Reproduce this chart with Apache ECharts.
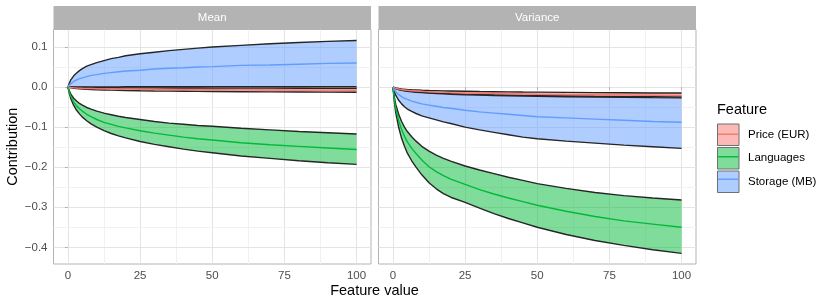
<!DOCTYPE html>
<html><head><meta charset="utf-8">
<script src="https://cdn.jsdelivr.net/npm/echarts@6/dist/echarts.min.js"></script>
<style>html,body{margin:0;padding:0;background:#fff}#c{width:830px;height:306px}</style>
</head><body><div id="c"></div>
<script>
// ---------- data ----------
const xValues = [0, 0.5, 1, 2, 3, 4, 5, 6.5, 8, 10, 12.5, 15, 17.5, 20, 25, 30, 35, 40, 45, 50, 60, 70, 80, 90, 100];
const features = ['Price (EUR)', 'Languages', 'Storage (MB)'];
const panels = ['Mean', 'Variance'];
const xTicks = [0, 25, 50, 75, 100];
const yTicks = [0.1, 0, -0.1, -0.2, -0.3, -0.4];
const xMinorGrid = [12.5, 37.5, 62.5, 87.5];
const yMinorGrid = [0.05, -0.05, -0.15, -0.25, -0.35];

// Mean panel
const meanPriceUpper = [0, -0.0003, -0.0005, -0.0007, -0.0009, -0.0010, -0.0012, -0.0013, -0.0014, -0.0016, -0.0017, -0.0018, -0.0019, -0.0020, -0.0021, -0.0022, -0.0023, -0.0024, -0.0025, -0.0026, -0.0027, -0.0028, -0.0029, -0.0029, -0.0030];
const meanPriceMid   = [0, -0.0007, -0.0012, -0.0019, -0.0024, -0.0028, -0.0031, -0.0035, -0.0038, -0.0042, -0.0045, -0.0048, -0.0051, -0.0053, -0.0056, -0.0060, -0.0062, -0.0064, -0.0066, -0.0068, -0.0071, -0.0074, -0.0076, -0.0078, -0.0080];
const meanPriceLower = [0, -0.0011, -0.0020, -0.0031, -0.0039, -0.0045, -0.0050, -0.0057, -0.0062, -0.0068, -0.0073, -0.0078, -0.0082, -0.0086, -0.0092, -0.0097, -0.0101, -0.0105, -0.0108, -0.0111, -0.0116, -0.0120, -0.0124, -0.0127, -0.0130];
const meanLangUpper  = [0, -0.010, -0.018, -0.028, -0.035, -0.041, -0.045, -0.051, -0.055, -0.060, -0.065, -0.069, -0.073, -0.076, -0.081, -0.086, -0.090, -0.093, -0.096, -0.098, -0.103, -0.107, -0.111, -0.114, -0.117];
const meanLangMid    = [0, -0.014, -0.023, -0.037, -0.047, -0.054, -0.060, -0.068, -0.074, -0.081, -0.088, -0.093, -0.098, -0.102, -0.109, -0.115, -0.120, -0.125, -0.129, -0.132, -0.139, -0.144, -0.148, -0.152, -0.156];
const meanLangLower  = [0, -0.017, -0.029, -0.046, -0.058, -0.067, -0.075, -0.084, -0.092, -0.100, -0.109, -0.116, -0.122, -0.127, -0.136, -0.143, -0.149, -0.155, -0.160, -0.164, -0.172, -0.178, -0.184, -0.189, -0.193];
const meanStorUpper  = [0, 0.010, 0.018, 0.028, 0.035, 0.041, 0.046, 0.052, 0.056, 0.061, 0.066, 0.071, 0.074, 0.078, 0.083, 0.087, 0.091, 0.094, 0.097, 0.100, 0.104, 0.108, 0.111, 0.114, 0.116];
const meanStorMid    = [0, 0.0053, 0.009, 0.014, 0.018, 0.021, 0.023, 0.026, 0.029, 0.031, 0.034, 0.036, 0.038, 0.040, 0.042, 0.045, 0.047, 0.048, 0.050, 0.051, 0.054, 0.055, 0.057, 0.059, 0.060];
const meanStorLower  = [0, 0.0001, 0.0001, 0.0002, 0.0002, 0.0003, 0.0003, 0.0004, 0.0004, 0.0004, 0.0005, 0.0005, 0.0005, 0.0006, 0.0006, 0.0007, 0.0007, 0.0007, 0.0008, 0.0008, 0.0008, 0.0009, 0.0009, 0.0010, 0.0010];

// Variance panel
const varPriceUpper = [0, -0.0013, -0.0023, -0.0036, -0.0045, -0.0052, -0.0058, -0.0066, -0.0071, -0.0078, -0.0085, -0.0090, -0.0095, -0.0099, -0.0106, -0.0112, -0.0116, -0.0121, -0.0125, -0.0128, -0.0134, -0.0139, -0.0143, -0.0147, -0.0150];
const varPriceMid   = [0, -0.0018, -0.0032, -0.0050, -0.0063, -0.0073, -0.0081, -0.0092, -0.0100, -0.0109, -0.0118, -0.0126, -0.0133, -0.0139, -0.0148, -0.0156, -0.0163, -0.0169, -0.0174, -0.0179, -0.0187, -0.0194, -0.0200, -0.0205, -0.0210];
const varPriceLower = [0, -0.0022, -0.0038, -0.0060, -0.0075, -0.0087, -0.0097, -0.0109, -0.0119, -0.0130, -0.0141, -0.0150, -0.0158, -0.0165, -0.0177, -0.0186, -0.0194, -0.0201, -0.0208, -0.0213, -0.0223, -0.0231, -0.0238, -0.0244, -0.0250];
const varLangUpper  = [0, -0.026, -0.044, -0.068, -0.086, -0.100, -0.111, -0.124, -0.135, -0.148, -0.160, -0.170, -0.178, -0.185, -0.197, -0.207, -0.216, -0.225, -0.233, -0.241, -0.253, -0.263, -0.271, -0.277, -0.282];
const varLangMid    = [0, -0.032, -0.054, -0.084, -0.106, -0.123, -0.137, -0.153, -0.166, -0.182, -0.199, -0.211, -0.221, -0.230, -0.243, -0.256, -0.267, -0.277, -0.286, -0.295, -0.310, -0.323, -0.334, -0.342, -0.350];
const varLangLower  = [0, -0.038, -0.065, -0.101, -0.128, -0.148, -0.165, -0.184, -0.200, -0.219, -0.239, -0.254, -0.266, -0.275, -0.288, -0.302, -0.316, -0.328, -0.339, -0.350, -0.368, -0.383, -0.395, -0.406, -0.415];
const varStorUpper  = [0, -0.0024, -0.0041, -0.0064, -0.0081, -0.0094, -0.0105, -0.0118, -0.0129, -0.0140, -0.0152, -0.0162, -0.0171, -0.0178, -0.0191, -0.0201, -0.0210, -0.0217, -0.0224, -0.0230, -0.0241, -0.0249, -0.0257, -0.0264, -0.0270];
const varStorMid    = [0, -0.007, -0.012, -0.019, -0.024, -0.028, -0.031, -0.035, -0.038, -0.042, -0.045, -0.048, -0.051, -0.053, -0.058, -0.062, -0.065, -0.068, -0.071, -0.074, -0.077, -0.080, -0.083, -0.086, -0.088];
const varStorLower  = [0, -0.012, -0.021, -0.033, -0.042, -0.049, -0.055, -0.061, -0.066, -0.072, -0.077, -0.082, -0.087, -0.091, -0.100, -0.107, -0.113, -0.119, -0.125, -0.129, -0.135, -0.140, -0.145, -0.149, -0.153];

// ---------- styling ----------
const FONT = 'Liberation Sans, Arial, Helvetica, sans-serif';
const COLORS = ['#F8766D', '#00BA38', '#619CFF'];
const OUTLINE = '#262626';
const GRID_MAJOR = '#E4E4E4';
const GRID_MINOR = '#F1F1F1';
const BORDER = '#B3B3B3';

const panelData = [
  [[meanPriceLower, meanPriceMid, meanPriceUpper], [meanLangLower, meanLangMid, meanLangUpper], [meanStorLower, meanStorMid, meanStorUpper]],
  [[varPriceLower, varPriceMid, varPriceUpper], [varLangLower, varLangMid, varLangUpper], [varStorLower, varStorMid, varStorUpper]]
];

const gridBoxes = [
  {left: 53.5, top: 29.5, width: 317.5, height: 234.5},
  {left: 378.5, top: 29.5, width: 317.5, height: 234.5}
];

const series = [];
panelData.forEach((feats, gi) => {
  // gridlines, placed through the axis scales with markLine (kept under the data)
  const ml = [];
  xTicks.forEach(v => ml.push({xAxis: v, lineStyle: {color: GRID_MAJOR, width: 1, type: 'solid'}}));
  xMinorGrid.forEach(v => ml.push({xAxis: v, lineStyle: {color: GRID_MINOR, width: 1, type: 'solid'}}));
  yTicks.forEach(v => ml.push({yAxis: v, lineStyle: {color: GRID_MAJOR, width: 1, type: 'solid'}}));
  yMinorGrid.forEach(v => ml.push({yAxis: v, lineStyle: {color: GRID_MINOR, width: 1, type: 'solid'}}));
  series.push({
    type: 'line', xAxisIndex: gi, yAxisIndex: gi, data: [[-100, -100]], symbol: 'none',
    lineStyle: {width: 0}, silent: true, z: 0, animation: false,
    markLine: {z: 0, silent: true, symbol: ['none', 'none'], label: {show: false}, animation: false, emphasis: {disabled: true}, data: ml}
  });
  // ribbons: fill polygon + black outlines
  feats.forEach((arr, fi) => {
    const lower = arr[0], upper = arr[2];
    series.push({
      type: 'custom', xAxisIndex: gi, yAxisIndex: gi, silent: true, z: 3, animation: false,
      data: [[0, 0]], encode: {x: 0, y: 1}, clip: true,
      renderItem: (params, api) => {
        const pts = [];
        for (let i = 0; i < xValues.length; i++) pts.push(api.coord([xValues[i], upper[i]]));
        for (let i = xValues.length - 1; i >= 0; i--) pts.push(api.coord([xValues[i], lower[i]]));
        return {type: 'polygon', shape: {points: pts}, style: {fill: COLORS[fi], opacity: 0.5, stroke: null}};
      }
    });
    [lower, upper].forEach(b => {
      series.push({
        type: 'line', xAxisIndex: gi, yAxisIndex: gi,
        data: xValues.map((x, i) => [x, b[i]]),
        symbol: 'none', silent: true, animation: false,
        lineStyle: {color: OUTLINE, width: 1.4}, z: 3
      });
    });
  });
});
// centre lines on top
panelData.forEach((feats, gi) => {
  feats.forEach((arr, fi) => {
    const mid = arr[1];
    series.push({
      name: features[fi], type: 'line', xAxisIndex: gi, yAxisIndex: gi,
      data: xValues.map((x, i) => [x, mid[i]]),
      symbol: 'none', animation: false,
      lineStyle: {color: COLORS[fi], width: 1.4}, itemStyle: {color: COLORS[fi]}, z: 4
    });
  });
});

const yLabelFmt = v => (Math.abs(v) < 1e-9 ? '0.0' : v.toFixed(1).replace('-', '\u2212'));

const xAxes = gridBoxes.map((g, gi) => ({
  type: 'value', gridIndex: gi, min: -5, max: 105,
  axisLine: {show: false}, splitLine: {show: false},
  axisTick: {show: true, customValues: xTicks, length: 3, lineStyle: {color: BORDER, width: 1}},
  axisLabel: {show: true, customValues: xTicks, margin: 6, color: '#4D4D4D', fontSize: 11.5, fontFamily: FONT}
}));
const yAxes = gridBoxes.map((g, gi) => ({
  type: 'value', gridIndex: gi, min: -0.4416, max: 0.1436,
  axisLine: {show: false}, splitLine: {show: false},
  axisTick: {show: gi === 0, customValues: yTicks, length: 3, lineStyle: {color: BORDER, width: 1}},
  axisLabel: {show: gi === 0, customValues: yTicks, margin: 6, color: '#4D4D4D', fontSize: 11.5, fontFamily: FONT, formatter: yLabelFmt},
  name: gi === 0 ? 'Contribution' : '', nameLocation: 'middle', nameRotate: 90, nameGap: 33,
  nameTextStyle: {color: '#000', fontSize: 14.5, fontFamily: FONT}
}));

const graphic = [];
gridBoxes.forEach((g, gi) => {
  graphic.push({type: 'rect', z: 10, silent: true, shape: {x: g.left, y: 6, width: g.width, height: g.top - 6}, style: {fill: '#B3B3B3'}});
  graphic.push({type: 'text', z: 11, silent: true, x: g.left + g.width / 2, y: 6 + (g.top - 6) / 2,
    style: {text: panels[gi], fill: '#FFFFFF', fontSize: 11.5, fontFamily: FONT, align: 'center', verticalAlign: 'middle'}});
});
graphic.push({type: 'text', z: 11, silent: true, x: 374.5, y: 291,
  style: {text: 'Feature value', fill: '#000', fontSize: 14.5, fontFamily: FONT, align: 'center', verticalAlign: 'middle'}});
graphic.push({type: 'text', z: 11, silent: true, x: 717, y: 110,
  style: {text: 'Feature', fill: '#000', fontSize: 14.5, fontFamily: FONT, align: 'left', verticalAlign: 'middle'}});
const LEG_TOP = 123.5, LEG_H = 21.5, LEG_GAP = 1;
features.forEach((f, fi) => {
  const cy = LEG_TOP + fi * (LEG_H + LEG_GAP) + LEG_H / 2;
  graphic.push({type: 'line', z: 100, silent: true, shape: {x1: 718, y1: cy, x2: 738.5, y2: cy}, style: {stroke: COLORS[fi], lineWidth: 1.4}});
});

const option = {
  animation: false,
  backgroundColor: '#fff',
  grid: gridBoxes.map(g => Object.assign({show: true, borderColor: BORDER, borderWidth: 1, backgroundColor: 'transparent', containLabel: false}, g)),
  xAxis: xAxes,
  yAxis: yAxes,
  legend: {
    left: 717, top: LEG_TOP, orient: 'vertical', itemWidth: LEG_H, itemHeight: LEG_H, itemGap: LEG_GAP,
    padding: 0, selectedMode: false, icon: 'rect',
    textStyle: {color: '#000', fontSize: 11.5, fontFamily: FONT, padding: [0, 0, 0, 4]},
    data: features.map((f, fi) => ({
      name: f, icon: 'rect',
      itemStyle: {color: COLORS[fi] + '80', borderColor: '#6f6f6f', borderWidth: 1, opacity: 1}
    }))
  },
  graphic: graphic,
  series: series
};
const chart = echarts.init(document.getElementById('c'), null, {renderer: 'canvas'});
chart.setOption(option);
</script></body></html>
